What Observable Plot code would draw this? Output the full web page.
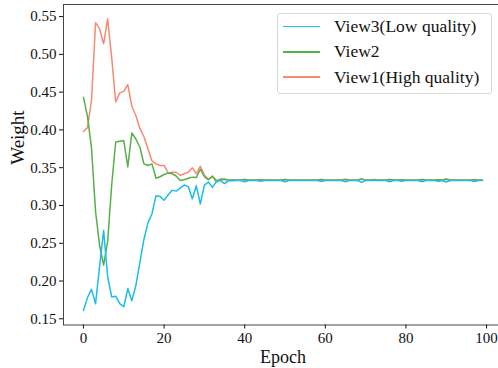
<!DOCTYPE html>
<html><head><meta charset="utf-8">
<script src="https://cdn.jsdelivr.net/npm/d3@7"></script>
<script src="https://cdn.jsdelivr.net/npm/@observablehq/plot@0.6"></script>
<style>
html,body{margin:0;padding:0;background:#fff;overflow:hidden;}
#wrap{position:relative;width:498px;height:368px;overflow:hidden;}
#legend{position:absolute;left:277px;top:13px;width:215px;height:81px;box-sizing:border-box;border:1px solid #d8d8d8;border-radius:3px;background:rgba(255,255,255,0.85);font-family:'Liberation Serif';font-size:17.5px;color:#111;}
.row{display:flex;align-items:center;height:25.3px;}
.sw{width:37px;height:1.6px;margin-left:5px;margin-right:14px;}
</style>
</head><body>
<div id="wrap"><div id="legend"></div></div>
<script>
// Legend labels and colours
const seriesNames = ["View3(Low quality)", "View2", "View1(High quality)"];
const seriesColors = ["#1cbde8", "#55b04a", "#f88a72"];

// Tick labels
const xTicks = [0, 20, 40, 60, 80, 100];
const yTicks = [0.15, 0.20, 0.25, 0.30, 0.35, 0.40, 0.45, 0.50, 0.55];

// View3 (Low quality), epochs 0..99
const view3 = [
0.161,0.178,0.189,0.170,0.219,0.267,0.206,0.179,0.180,0.170,
0.166,0.190,0.174,0.194,0.225,0.255,0.277,0.289,0.313,0.312,
0.307,0.314,0.320,0.319,0.323,0.327,0.325,0.309,0.326,0.302,
0.327,0.331,0.324,0.332,0.333,0.329,0.333,0.3328,0.333,0.333,
0.3315,0.333,0.333,0.333,0.332,0.333,0.333,0.333,0.333,0.333,
0.3315,0.333,0.333,0.333,0.333,0.333,0.333,0.333,0.333,0.3318,
0.333,0.333,0.333,0.333,0.333,0.3312,0.333,0.333,0.333,0.3305,
0.333,0.333,0.333,0.333,0.333,0.333,0.3315,0.333,0.333,0.332,
0.333,0.333,0.333,0.333,0.3315,0.333,0.333,0.333,0.332,0.333,
0.331,0.333,0.333,0.333,0.333,0.333,0.333,0.3318,0.333,0.333];

// View2
const view2 = [
0.443,0.418,0.376,0.292,0.247,0.221,0.252,0.327,0.384,0.385,
0.386,0.351,0.396,0.388,0.377,0.355,0.353,0.355,0.336,0.338,
0.341,0.343,0.342,0.339,0.333,0.334,0.336,0.3375,0.337,0.348,
0.338,0.334,0.339,0.331,0.335,0.335,0.3335,0.3336,0.3335,0.3335,
0.3345,0.3335,0.3335,0.3335,0.334,0.3335,0.3335,0.3335,0.3335,0.3335,
0.3345,0.3335,0.3335,0.3335,0.3335,0.3335,0.3335,0.3335,0.3335,0.3343,
0.3335,0.3335,0.3335,0.3335,0.3335,0.3345,0.3335,0.3335,0.3335,0.3352,
0.3335,0.3335,0.3342,0.3335,0.3335,0.3335,0.3343,0.3335,0.3335,0.334,
0.3335,0.3335,0.3335,0.3335,0.3343,0.3335,0.3335,0.3335,0.334,0.3335,
0.3348,0.3335,0.3335,0.3335,0.3335,0.3335,0.3335,0.3342,0.3335,0.3335];

// View1 (High quality)
const view1 = [
0.398,0.403,0.439,0.542,0.534,0.514,0.547,0.496,0.437,0.449,
0.451,0.460,0.431,0.419,0.402,0.391,0.375,0.359,0.355,0.353,
0.353,0.343,0.344,0.344,0.340,0.342,0.344,0.350,0.342,0.352,
0.340,0.335,0.338,0.334,0.3335,0.3345,0.3337,0.3336,0.3337,0.3337,
0.3345,0.3337,0.3337,0.3337,0.3342,0.3337,0.3337,0.3337,0.3337,0.3337,
0.3345,0.3337,0.3337,0.3337,0.3337,0.3337,0.3337,0.3337,0.3337,0.3344,
0.3337,0.3337,0.3337,0.3337,0.3337,0.3348,0.3337,0.3337,0.3337,0.3352,
0.3337,0.3337,0.3343,0.3337,0.3337,0.3337,0.3345,0.3337,0.3337,0.3342,
0.3337,0.3337,0.3337,0.3337,0.3345,0.3337,0.3337,0.3337,0.3342,0.3337,
0.335,0.3337,0.3337,0.3337,0.3337,0.3337,0.3337,0.3343,0.3337,0.3337];

const toRows = vals => vals.map((w, i) => ({epoch: i, w}));

const font = "Liberation Serif";
const plot = Plot.plot({
  width: 498, height: 368,
  marginLeft: 63, marginRight: -4, marginTop: 4, marginBottom: 43.5,
  style: {fontFamily: font, fontSize: "15px", color: "#111", background: "#fff"},
  x: {domain: [-4.95, 103.95]},
  y: {domain: [0.1418, 0.566]},
  marks: [
    // draw View1, View2, then View3 on top
    Plot.line(toRows(view1), {x: "epoch", y: "w", stroke: seriesColors[2], strokeWidth: 1.5}),
    Plot.line(toRows(view2), {x: "epoch", y: "w", stroke: seriesColors[1], strokeWidth: 1.5}),
    Plot.line(toRows(view3), {x: "epoch", y: "w", stroke: seriesColors[0], strokeWidth: 1.5}),
    Plot.frame({stroke: "#333", strokeWidth: 0.9}),
    Plot.axisX({ticks: xTicks, tickSize: 4, tickPadding: 3, label: null, fontSize: 15, fontFamily: font}),
    Plot.axisY({ticks: yTicks, tickSize: 4, tickPadding: 3, label: null, fontSize: 15, fontFamily: font, tickFormat: d3.format(".2f")}),
    Plot.text(["Epoch"], {frameAnchor: "bottom", dy: 32.5, lineAnchor: "middle", fontSize: 18, fontFamily: font, fill: "#111"}),
    Plot.text(["Weight"], {frameAnchor: "left", dx: -46, rotate: -90, lineAnchor: "middle", fontSize: 19, fontFamily: font, fill: "#111"})
  ]
});
document.getElementById("wrap").prepend(plot);

const legend = document.getElementById("legend");
seriesNames.forEach((name, i) => {
  const row = document.createElement("div");
  row.className = "row";
  const sw = document.createElement("span");
  sw.className = "sw";
  sw.style.background = seriesColors[i];
  const t = document.createElement("span");
  t.textContent = name;
  row.append(sw, t);
  legend.append(row);
});
</script>
</body></html>
